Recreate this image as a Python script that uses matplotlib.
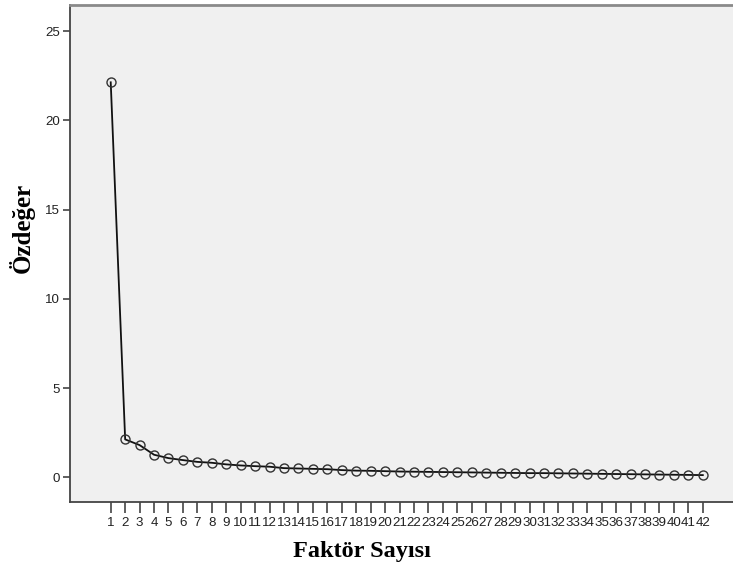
import numpy as np
import matplotlib.pyplot as plt

# scree plot: eigenvalues per factor
factors = list(range(1, 43))
eigenvalues = [22.13, 2.13, 1.81, 1.27, 1.08, 0.97, 0.87, 0.82, 0.73, 0.67,
               0.63, 0.60, 0.52, 0.50, 0.48, 0.46, 0.41, 0.38, 0.37, 0.35,
               0.33, 0.32, 0.31, 0.30, 0.29, 0.28, 0.27, 0.26, 0.25, 0.24,
               0.24, 0.23, 0.22, 0.21, 0.20, 0.19, 0.18, 0.17, 0.16, 0.15,
               0.14, 0.13]
yticks = [0, 5, 10, 15, 20, 25]

fig = plt.figure(figsize=(7.33, 5.64), dpi=100)
ax = fig.add_axes([70 / 733, 1 - 501.7 / 564, 1 - 70 / 733, (501.7 - 5) / 564])
ax.set_facecolor('#f0f0f0')

ax.plot(factors, eigenvalues, color='#111111', lw=1.3, marker='o',
        markersize=6.5, markerfacecolor='none', markeredgecolor='#333333',
        markeredgewidth=1.0, zorder=3)

ax.set_xlim(-1.82, 44.09)
ax.set_ylim(-1.36, 26.46)
ax.set_xticks(factors)
ax.set_xticklabels([str(f) for f in factors])
ax.set_yticks(yticks)

for side in ['left', 'bottom']:
    ax.spines[side].set_color('#444444')
    ax.spines[side].set_linewidth(1.3)
ax.spines['top'].set_color('#8a8a8a')
ax.spines['top'].set_linewidth(2.0)
ax.spines['right'].set_visible(False)

ax.tick_params(axis='x', length=8, width=1.2, color='#444444', pad=3,
               labelsize=9.6, labelcolor='#222222')
ax.tick_params(axis='y', length=5, width=1.2, color='#444444', pad=2,
               labelsize=9.6, labelcolor='#222222')
for lbl in ax.get_xticklabels() + ax.get_yticklabels():
    lbl.set_family('Liberation Sans')

fig.text(362 / 733, 1 - 557 / 564, 'Faktör Sayısı', ha='center', va='baseline',
         fontsize=17.5, fontweight='bold', family='Liberation Serif')
fig.text(30 / 733, 1 - 228 / 564, 'Özdeğer', ha='center', va='baseline',
         rotation=90, rotation_mode='anchor', fontsize=18, fontweight='bold',
         family='Liberation Serif')

fig.savefig('out.png', dpi=100)
